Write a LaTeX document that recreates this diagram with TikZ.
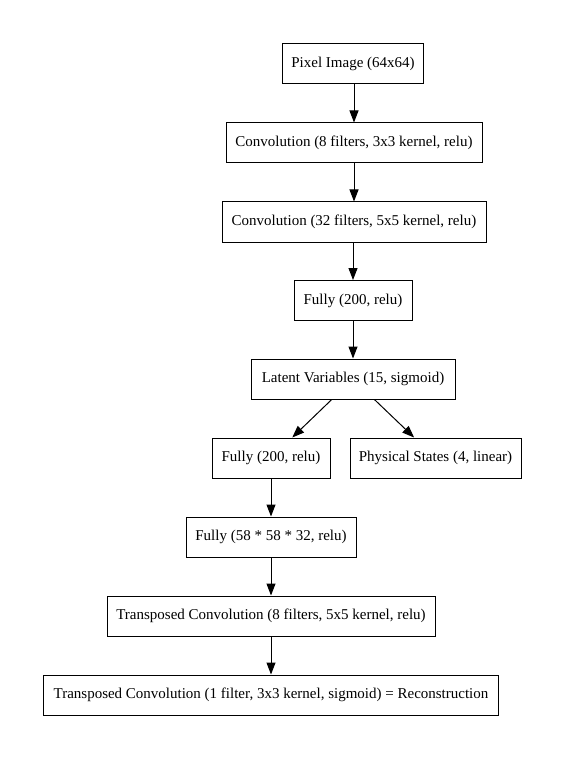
\documentclass[tikz,border=0pt]{standalone}
\usepackage{fontspec}
\setmainfont{Liberation Serif}
\usetikzlibrary{arrows.meta}
\tikzset{
  layer/.style={draw, line width=1pt, minimum height=40pt, inner sep=0pt, font=\fontsize{15pt}{18pt}\selectfont},
  flow/.style={-{Triangle[length=12pt,width=9pt]}, line width=1pt}
}
\begin{document}
\begin{tikzpicture}[x=1pt,y=-1pt]
\useasboundingbox (0,0) rectangle (565,759);
\node[layer, minimum width=141pt] (b1) at (353,64) {Pixel Image (64x64)};
\node[layer, minimum width=256pt] (b2) at (354,143) {Convolution (8 filters, 3x3 kernel, relu)};
\node[layer, minimum width=264pt] (b3) at (354,222) {Convolution (32 filters, 5x5 kernel, relu)};
\node[layer, minimum width=118pt] (b4) at (353,300.5) {Fully (200, relu)};
\node[layer, minimum width=204pt] (b5) at (353,379) {Latent Variables (15, sigmoid)};
\node[layer, minimum width=118pt] (b6) at (271,458) {Fully (200, relu)};
\node[layer, minimum width=171pt] (b7) at (435.5,458) {Physical States (4, linear)};
\node[layer, minimum width=170pt] (b8) at (271,537) {Fully (58 * 58 * 32, relu)};
\node[layer, minimum width=328pt] (b9) at (271,616) {Transposed Convolution (8 filters, 5x5 kernel, relu)};
\node[layer, minimum width=455pt] (b10) at (271,695) {Transposed Convolution (1 filter, 3x3 kernel, sigmoid) = Reconstruction};
\draw[flow] (b1.south -| b2) -- (b2);
\draw[flow] (b2) -- (b3);
\draw[flow] (b3.south -| b4) -- (b4);
\draw[flow] (b4) -- (b5);
\draw[flow] (b5) -- (b6);
\draw[flow] (b5) -- (b7);
\draw[flow] (b6) -- (b8);
\draw[flow] (b8) -- (b9);
\draw[flow] (b9) -- (b10);
\end{tikzpicture}
\end{document}
